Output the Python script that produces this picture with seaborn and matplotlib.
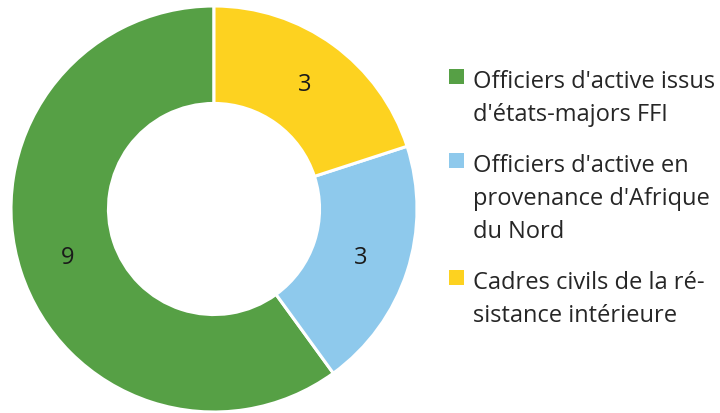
import matplotlib
matplotlib.use("Agg")
import numpy as np
import matplotlib.pyplot as plt
from matplotlib.patches import Rectangle
import seaborn as sns

# Données du graphique (anneau)
categories = [
    "Officiers d'active issus\nd'états-majors FFI",
    "Officiers d'active en\nprovenance d'Afrique\ndu Nord",
    "Cadres civils de la ré-\nsistance intérieure",
]
valeurs = [9, 3, 3]
couleurs = ["#56A045", "#8EC9EC", "#FDD220"]

sns.set_theme(style="white")
plt.rcParams["font.family"] = ["Open Sans", "DejaVu Sans"]

W, H = 720, 414
fig = plt.figure(figsize=(W / 100, H / 100), dpi=100)
# axe carré centré sur l'anneau
ax = fig.add_axes([(214 - 203) / W, (H - 210 - 203) / H, 406 / W, 406 / H])

epaisseur = 0.48
wedges, _ = ax.pie(
    valeurs,
    colors=couleurs,
    startangle=90,
    counterclock=True,
    radius=1.0,
    wedgeprops=dict(width=epaisseur, edgecolor="white", linewidth=2.2),
)
for w, v in zip(wedges, valeurs):
    ang = np.deg2rad((w.theta1 + w.theta2) / 2)
    r = 1 - epaisseur / 2
    ax.text(r * np.cos(ang), r * np.sin(ang), str(v), ha="center", va="center",
            fontsize=17, color="#1a1a1a")

ax.set_xlim(-1, 1)
ax.set_ylim(-1, 1)
ax.set_aspect("equal")

# légende : carré aligné sur la première ligne
y0 = 88          # ligne de base de la première entrée (px depuis le haut)
interligne = 33
ecart = 51
y = y0
for lab, c in zip(categories, couleurs):
    lignes = lab.split("\n")
    fig.patches.append(Rectangle((449 / W, 1 - (y - 3) / H), 15 / W, 15 / H,
                                 transform=fig.transFigure, facecolor=c,
                                 edgecolor="none"))
    for i, ligne in enumerate(lignes):
        fig.text(473 / W, 1 - (y + i * interligne) / H, ligne, fontsize=17,
                 color="#262626", ha="left", va="baseline")
    y += (len(lignes) - 1) * interligne + ecart

fig.savefig("out.png", dpi=100)
